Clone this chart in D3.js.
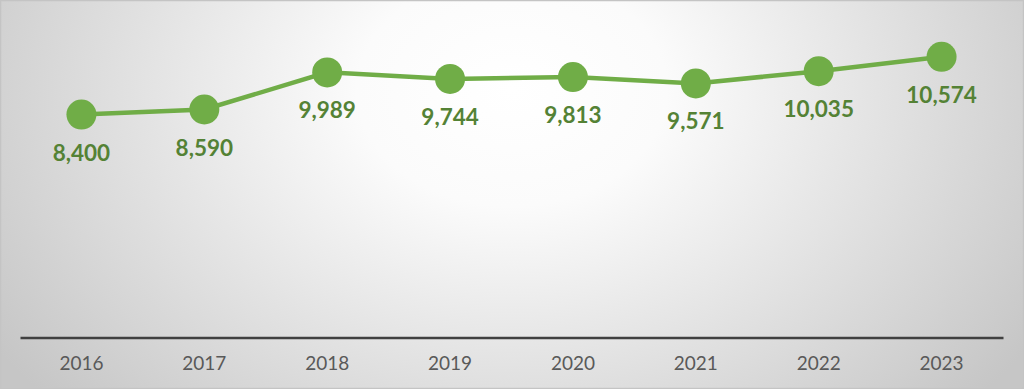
<!DOCTYPE html>
<html>
<head>
<meta charset="utf-8">
<script src="https://cdn.jsdelivr.net/npm/d3@7"></script>
<style>
  html, body { margin: 0; padding: 0; background: #fff; }
  svg { display: block; }
</style>
</head>
<body>
<script>
var w = 1024;
var h = 389;

var years = ["2016", "2017", "2018", "2019", "2020", "2021", "2022", "2023"];
var values = [8400, 8590, 9989, 9744, 9813, 9571, 10035, 10574];

var xScale = d3.scaleBand()
    .domain(years)
    .range([20, 1003]);

var yScale = d3.scaleLinear()
    .domain([0, 12000])
    .range([337.5, 19]);

var svg = d3.select("body")
    .append("svg")
    .attr("width", w)
    .attr("height", h);

// background gradient
var defs = svg.append("defs");
var grad = defs.append("radialGradient")
    .attr("id", "bg")
    .attr("gradientUnits", "userSpaceOnUse")
    .attr("cx", 512)
    .attr("cy", 90)
    .attr("r", 620)
    .attr("gradientTransform", "translate(512,90) scale(1,0.75) translate(-512,-90)");
grad.append("stop").attr("offset", "0%").attr("stop-color", "#ffffff");
grad.append("stop").attr("offset", "25%").attr("stop-color", "#fbfbfb");
grad.append("stop").attr("offset", "100%").attr("stop-color", "#c6c6c6");

svg.append("rect")
    .attr("x", 0.5)
    .attr("y", 0.5)
    .attr("width", w - 1)
    .attr("height", h - 1)
    .attr("fill", "url(#bg)")
    .attr("stroke", "#c4c4c4")
    .attr("stroke-width", 1.5);

// x axis
var xAxis = d3.axisBottom(xScale).tickSize(0).tickPadding(19);
var gx = svg.append("g")
    .attr("transform", "translate(0," + yScale(0) + ")")
    .call(xAxis);
gx.select(".domain")
    .attr("stroke", "#404040")
    .attr("stroke-width", 2.5);
gx.selectAll("text")
    .style("font-family", "Lato, 'Open Sans', sans-serif")
    .style("font-size", "19px")
    .style("fill", "#595959");

var cx = function (d, i) {
    return xScale(years[i]) + xScale.bandwidth() / 2;
};

var line = d3.line()
    .x(function (d, i) { return cx(d, i); })
    .y(function (d) { return yScale(d); });

svg.append("path")
    .datum(values)
    .attr("d", line)
    .attr("fill", "none")
    .attr("stroke", "#70ad47")
    .attr("stroke-width", 4.5);

svg.selectAll("circle.pt")
    .data(values)
    .enter()
    .append("circle")
    .attr("class", "pt")
    .attr("cx", cx)
    .attr("cy", function (d) { return yScale(d); })
    .attr("r", 15)
    .attr("fill", "#70ad47");

svg.selectAll("text.lbl")
    .data(values)
    .enter()
    .append("text")
    .attr("class", "lbl")
    .attr("x", cx)
    .attr("y", function (d) { return yScale(d) + 46; })
    .attr("text-anchor", "middle")
    .style("font-family", "Lato, 'Open Sans', sans-serif")
    .style("font-weight", "bold")
    .style("font-size", "22.5px")
    .style("fill", "#548235")
    .text(function (d) { return d3.format(",")(d); });
</script>
</body>
</html>
